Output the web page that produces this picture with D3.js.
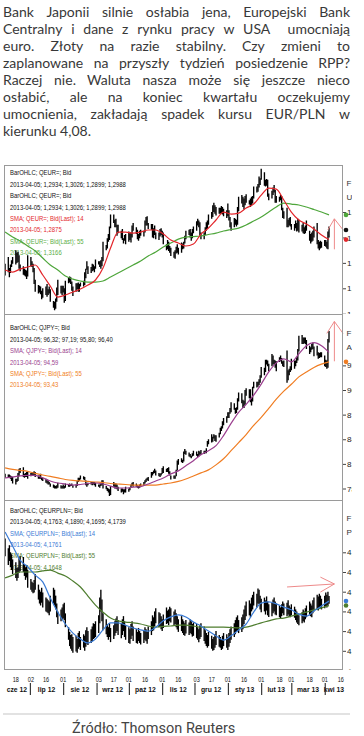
<!DOCTYPE html>
<html><head><meta charset="utf-8">
<script src="https://cdnjs.cloudflare.com/ajax/libs/d3/7.8.5/d3.min.js"></script>
<style>body{margin:0;background:#fff;}svg{display:block;}</style>
</head><body><script>
// ---------------- DATA ----------------
const introLines = [
  "Bank Japonii silnie osłabia jena, Europejski Bank",
  "Centralny i dane z rynku pracy w USA  umocniają",
  "euro. Złoty na razie stabilny. Czy zmieni to",
  "zaplanowane na przyszły tydzień posiedzenie RPP?",
  "Raczej nie. Waluta nasza może się jeszcze nieco",
  "osłabić, ale na koniec kwartału oczekujemy",
  "umocnienia, zakładają spadek kursu EUR/PLN w",
  "kierunku 4,08."
];
const sourceText = "Źródło: Thomson Reuters";

// trading days 2012-06-08 .. 2013-04-05 (weekdays)
const firstDay = new Date(2012, 5, 8), lastDay = new Date(2013, 3, 5);

// EUR/USD daily high / low
const eurusdHigh = [1.259,
 1.267,1.254,1.258,1.263,1.267, 1.275,1.272,1.273,1.269,1.258, 1.256,1.253,1.252,1.251,1.269,
 1.267,1.262,1.259,1.254,1.240, 1.234,1.233,1.232,1.227,1.230, 1.232,1.235,1.229,1.232,1.229,
 1.215,1.214,1.218,1.231,1.240, 1.233,1.233,1.233,1.230,1.239, 1.243,1.244,1.243,1.238,1.232,
 1.236,1.236,1.237,1.235,1.237, 1.239,1.249,1.253,1.262,1.256, 1.255,1.259,1.258,1.256,1.264,
 1.262,1.262,1.263,1.267,1.285, 1.281,1.289,1.294,1.303,1.317, 1.317,1.311,1.312,1.305,1.305,
 1.298,1.300,1.289,1.293,1.294, 1.297,1.295,1.296,1.304,1.307, 1.302,1.299,1.294,1.298,1.299,
 1.298,1.310,1.314,1.315,1.307, 1.306,1.306,1.301,1.304,1.296, 1.296,1.300,1.301,1.298,1.296,
 1.282,1.287,1.285,1.280,1.278, 1.273,1.275,1.279,1.282,1.278, 1.284,1.283,1.285,1.292,1.298,
 1.299,1.300,1.296,1.300,1.303, 1.309,1.312,1.310,1.308,1.296, 1.296,1.302,1.308,1.310,1.317,
 1.320,1.328,1.331,1.328,1.326, 1.325,1.325,1.327,1.326,1.324, 1.322,1.330,1.322,1.314,1.308,
 1.313,1.312,1.311,1.326,1.338, 1.340,1.338,1.336,1.339,1.341, 1.334,1.336,1.338,1.339,1.350,
 1.350,1.353,1.362,1.360,1.371, 1.367,1.358,1.359,1.358,1.342, 1.345,1.349,1.352,1.346,1.339,
 1.338,1.340,1.339,1.325,1.321, 1.325,1.311,1.313,1.314,1.306, 1.306,1.310,1.307,1.312,1.311,
 1.305,1.307,1.302,1.304,1.310, 1.298,1.294,1.296,1.298,1.303, 1.307,1.287,1.285,1.286,1.285,
 1.287,1.287,1.285,1.297,1.303];
const eurusdLow = [1.245,
 1.249,1.243,1.248,1.255,1.259, 1.258,1.260,1.261,1.253,1.250, 1.246,1.245,1.244,1.241,1.244,
 1.256,1.255,1.249,1.235,1.226, 1.224,1.225,1.223,1.217,1.219, 1.222,1.220,1.222,1.224,1.214,
 1.207,1.204,1.206,1.214,1.222, 1.224,1.222,1.225,1.213,1.215, 1.236,1.237,1.235,1.227,1.221,
 1.226,1.229,1.226,1.226,1.232, 1.232,1.234,1.242,1.252,1.247, 1.248,1.250,1.251,1.249,1.253,
 1.258,1.255,1.253,1.256,1.262, 1.275,1.277,1.285,1.287,1.301, 1.307,1.302,1.302,1.292,1.295,
 1.289,1.287,1.283,1.286,1.282, 1.285,1.287,1.284,1.290,1.298, 1.294,1.288,1.286,1.289,1.292,
 1.291,1.296,1.304,1.304,1.300, 1.299,1.290,1.289,1.293,1.288, 1.287,1.291,1.293,1.290,1.282,
 1.275,1.276,1.274,1.272,1.268, 1.266,1.265,1.271,1.272,1.270, 1.272,1.276,1.277,1.283,1.288,
 1.293,1.290,1.286,1.289,1.295, 1.298,1.304,1.302,1.292,1.288, 1.288,1.293,1.298,1.300,1.305,
 1.312,1.314,1.320,1.318,1.316, 1.318,1.318,1.318,1.317,1.315, 1.313,1.315,1.310,1.302,1.298,
 1.302,1.305,1.303,1.305,1.321, 1.330,1.326,1.323,1.328,1.331, 1.329,1.326,1.328,1.330,1.336,
 1.343,1.344,1.349,1.352,1.358, 1.351,1.350,1.351,1.338,1.334, 1.336,1.340,1.343,1.331,1.331,
 1.332,1.334,1.322,1.313,1.312, 1.302,1.302,1.304,1.303,1.299, 1.298,1.301,1.297,1.298,1.296,
 1.297,1.295,1.294,1.295,1.298, 1.286,1.283,1.285,1.286,1.290, 1.282,1.277,1.275,1.277,1.278,
 1.280,1.279,1.277,1.276,1.290];
// weekly (Friday) readings of the moving averages
const eurusdSma14 = [1.2516,1.2492,1.2527,1.2551,1.2575,1.2457,1.2327,1.2197,1.2221,1.2256,1.2291,
 1.2339,1.2398,1.2539,1.2775,1.2964,1.2964,1.2952,1.2964,1.2988,1.2988,1.2940,1.2870,1.2834,1.2799,
 1.2822,1.2940,1.3011,1.3106,1.3200,1.3176,1.3188,1.3247,1.3294,1.3400,1.3483,1.3471,1.3342,1.3200,
 1.3106,1.3058,1.3000,1.2929,1.2875];
const eurusdSma55 = [1.2964,1.2905,1.2858,1.2799,1.2740,1.2657,1.2575,1.2516,1.2445,1.2409,1.2386,
 1.2374,1.2374,1.2386,1.2433,1.2480,1.2527,1.2575,1.2622,1.2681,1.2728,1.2787,1.2834,1.2881,1.2905,
 1.2911,1.2917,1.2935,1.2952,1.2976,1.2994,1.3011,1.3047,1.3094,1.3141,1.3200,1.3259,1.3306,1.3294,
 1.3283,1.3259,1.3230,1.3200,1.3166];

// USD/JPY daily high / low
const usdjpyHigh = [79.8,
 79.7,79.7,79.6,79.5,79.4, 79.2,79.2,79.9,80.4,80.5, 80.6,79.8,79.9,80.0,80.0,
 79.9,80.0,80.0,80.1,80.0, 79.6,79.6,79.8,79.4,79.3, 79.2,79.1,78.9,78.8,78.6,
 78.5,78.4,78.3,78.4,78.7, 78.4,78.3,78.5,78.3,78.6, 78.5,78.6,78.5,78.6,78.4,
 78.5,78.9,79.3,79.3,79.6, 79.5,79.4,79.0,78.7,78.7, 78.8,78.8,78.8,78.8,78.7,
 78.5,78.5,78.7,79.0,79.0, 78.3,78.1,78.0,77.9,78.3, 78.8,78.6,78.6,78.5,78.2,
 78.0,78.0,77.9,77.9,78.2, 78.0,78.1,78.5,78.7,78.8, 78.6,78.4,78.3,78.5,78.6,
 78.8,79.0,79.2,79.3,79.4, 80.0,80.0,80.2,80.4,80.2, 79.9,79.8,79.9,80.5,80.7,
 80.4,80.5,80.6,80.1,79.6, 79.6,79.6,80.3,81.4,81.6, 81.7,81.5,82.5,82.8,82.6,
 82.4,82.2,82.0,82.3,82.6, 82.5,82.2,82.6,82.5,82.7, 82.6,82.6,82.9,83.8,84.0,
 84.6,84.3,84.6,84.5,84.5, 84.8,85.4,85.6,86.2,86.6, 86.8,87.3,87.3,87.8,88.5,
 88.4,87.8,87.9,89.0,89.7, 89.6,88.8,88.7,90.0,90.2, 90.1,90.1,89.0,90.4,91.0,
 91.0,91.0,91.3,91.8,92.8, 92.7,93.7,93.7,93.6,93.2, 94.4,94.2,93.7,93.6,93.5,
 94.0,94.2,93.9,93.5,93.6, 94.8,92.4,92.6,92.9,93.8, 93.6,93.6,94.0,95.0,96.6,
 96.7,96.4,96.4,96.4,96.1, 95.4,95.2,95.6,95.8,95.3, 95.4,94.6,94.5,94.6,94.6,
 94.2,93.7,93.6,96.2,97.2];
const usdjpyLow = [79.3,
 79.3,79.3,79.2,78.9,78.6, 78.5,78.8,78.9,79.5,79.9, 79.4,79.3,79.4,79.4,79.2,
 79.5,79.6,79.6,79.6,79.4, 79.2,79.2,79.2,79.0,78.9, 78.7,78.6,78.5,78.5,78.2,
 78.1,78.0,78.0,78.0,78.1, 78.0,78.0,78.0,78.0,78.1, 78.2,78.2,78.3,78.3,78.1,
 78.1,78.3,78.8,78.9,79.1, 79.1,79.0,78.4,78.2,78.4, 78.5,78.4,78.5,78.4,78.2,
 78.2,78.1,78.3,78.4,78.0, 77.9,77.7,77.5,77.1,77.2, 78.2,78.0,78.0,77.9,77.7,
 77.5,77.6,77.3,77.5,77.5, 77.6,77.8,78.1,78.3,78.2, 78.2,78.1,78.0,78.1,78.2,
 78.3,78.6,78.8,79.0,78.9, 79.3,79.6,79.8,79.9,79.6, 79.5,79.4,79.6,79.8,79.9,
 80.0,80.0,79.8,79.6,79.1, 79.2,79.2,79.5,80.2,80.9, 81.2,81.1,81.3,82.2,82.1,
 81.9,81.8,81.7,81.9,82.0, 82.0,81.8,81.9,82.1,82.1, 82.2,82.3,82.3,83.1,83.4,
 83.6,83.7,84.1,83.8,83.7, 84.2,84.6,85.0,85.3,85.7, 86.0,86.6,86.6,87.1,87.3,
 87.6,87.1,87.2,87.6,88.6, 88.4,87.8,87.8,88.2,89.3, 89.0,88.5,88.1,88.6,90.2,
 90.3,90.4,90.6,90.9,91.5, 91.8,92.2,93.1,92.9,92.3, 92.9,93.1,93.1,92.7,92.3,
 93.4,93.5,93.2,92.9,92.8, 90.9,91.2,91.8,92.2,92.4, 92.6,92.9,93.3,93.6,94.7,
 95.6,95.6,95.7,95.6,95.0, 94.4,94.6,94.9,95.0,94.1, 94.2,93.8,93.9,94.0,94.0,
 92.9,92.8,92.6,92.7,95.8];
const usdjpySma14 = [79.29,79.41,79.53,79.59,79.59,79.29,78.92,78.67,78.55,78.42,78.49,78.61,78.67,
 78.55,78.30,78.06,78.06,78.18,78.24,78.55,78.92,79.29,79.78,80.15,80.76,81.38,82.11,82.61,83.22,
 84.45,85.93,87.28,88.26,89.37,90.72,92.20,93.31,93.80,93.43,94.41,95.40,95.77,95.40,94.59];
const usdjpySma55 = [80.52,80.33,80.21,80.09,79.84,79.65,79.47,79.29,79.10,78.98,78.92,78.86,78.79,
 78.73,78.61,78.55,78.49,78.42,78.42,78.42,78.42,78.55,78.67,78.86,79.16,79.53,79.90,80.27,80.88,
 81.62,82.61,83.59,84.57,85.68,86.67,87.77,88.88,89.86,90.70,91.60,92.20,92.75,93.15,93.43];

// EUR/PLN daily high / low
const eurplnHigh = [4.335,
 4.310,4.318,4.300,4.295,4.282, 4.275,4.260,4.262,4.285,4.290, 4.288,4.270,4.262,4.268,4.255,
 4.232,4.225,4.222,4.230,4.245, 4.218,4.205,4.200,4.210,4.198, 4.185,4.182,4.178,4.175,4.190,
 4.210,4.205,4.190,4.170,4.150, 4.155,4.160,4.168,4.172,4.145, 4.110,4.098,4.090,4.092,4.085,
 4.088,4.080,4.095,4.100,4.085, 4.092,4.088,4.102,4.110,4.100, 4.105,4.112,4.120,4.118,4.125,
 4.140,4.185,4.205,4.180,4.145, 4.130,4.118,4.110,4.120,4.108, 4.115,4.125,4.132,4.138,4.128,
 4.120,4.130,4.138,4.125,4.115, 4.110,4.105,4.118,4.125,4.112, 4.105,4.098,4.108,4.100,4.095,
 4.102,4.110,4.105,4.098,4.112, 4.125,4.140,4.135,4.150,4.158, 4.148,4.145,4.138,4.130,4.142,
 4.160,4.152,4.155,4.162,4.158, 4.150,4.155,4.145,4.138,4.130, 4.138,4.130,4.125,4.120,4.128,
 4.122,4.130,4.125,4.118,4.122, 4.118,4.110,4.105,4.115,4.120, 4.112,4.102,4.095,4.090,4.098,
 4.088,4.080,4.085,4.092,4.100, 4.090,4.085,4.080,4.088,4.095, 4.092,4.085,4.095,4.105,4.112,
 4.120,4.128,4.135,4.140,4.128, 4.135,4.142,4.155,4.165,4.175, 4.178,4.170,4.185,4.192,4.200,
 4.195,4.208,4.205,4.190,4.182, 4.185,4.178,4.188,4.175,4.168, 4.172,4.180,4.185,4.175,4.170,
 4.165,4.160,4.168,4.175,4.170, 4.172,4.178,4.165,4.160,4.168, 4.162,4.155,4.150,4.145,4.140,
 4.148,4.155,4.150,4.158,4.165, 4.175,4.170,4.165,4.178,4.185, 4.192,4.188,4.195,4.190,4.182,
 4.190,4.198,4.192,4.200,4.189];
const eurplnLow = [4.290,
 4.268,4.278,4.262,4.255,4.245, 4.235,4.228,4.235,4.248,4.252, 4.250,4.240,4.230,4.236,4.210,
 4.205,4.200,4.196,4.198,4.205, 4.180,4.170,4.165,4.172,4.160, 4.150,4.148,4.145,4.140,4.150,
 4.170,4.165,4.155,4.135,4.118, 4.125,4.130,4.132,4.128,4.110, 4.078,4.062,4.055,4.050,4.045,
 4.048,4.045,4.055,4.060,4.052, 4.058,4.050,4.060,4.068,4.065, 4.070,4.075,4.080,4.082,4.085,
 4.095,4.120,4.150,4.125,4.102, 4.092,4.085,4.078,4.085,4.072, 4.080,4.088,4.095,4.100,4.090,
 4.082,4.090,4.100,4.085,4.078, 4.070,4.068,4.080,4.088,4.075, 4.070,4.068,4.075,4.070,4.066,
 4.070,4.078,4.074,4.068,4.080, 4.090,4.100,4.102,4.112,4.120, 4.110,4.112,4.105,4.100,4.108,
 4.118,4.120,4.115,4.125,4.122, 4.115,4.118,4.110,4.104,4.098, 4.100,4.095,4.090,4.088,4.094,
 4.090,4.095,4.092,4.086,4.088, 4.082,4.078,4.072,4.080,4.085, 4.075,4.068,4.062,4.058,4.062,
 4.055,4.050,4.052,4.058,4.065, 4.060,4.058,4.052,4.055,4.062, 4.058,4.052,4.060,4.070,4.078,
 4.085,4.092,4.098,4.100,4.095, 4.098,4.105,4.118,4.128,4.138, 4.140,4.135,4.150,4.155,4.165,
 4.160,4.170,4.168,4.155,4.148, 4.150,4.142,4.152,4.140,4.136, 4.138,4.145,4.150,4.142,4.140,
 4.135,4.132,4.138,4.145,4.140, 4.138,4.142,4.136,4.135,4.140, 4.134,4.128,4.122,4.118,4.115,
 4.120,4.125,4.122,4.130,4.135, 4.140,4.138,4.135,4.145,4.150, 4.155,4.152,4.160,4.158,4.155,
 4.158,4.162,4.160,4.165,4.1695];
const eurplnSma14 = [4.3515,4.316,4.280,4.263,4.242,4.225,4.184,4.148,4.118,4.095,4.080,4.070,4.080,
 4.103,4.121,4.121,4.115,4.108,4.103,4.100,4.110,4.126,4.136,4.141,4.136,4.123,4.113,4.100,4.088,
 4.077,4.088,4.103,4.118,4.148,4.171,4.174,4.169,4.161,4.154,4.143,4.138,4.151,4.164,4.1761];
const eurplnSma55 = [4.235,4.242,4.250,4.250,4.250,4.253,4.255,4.247,4.240,4.227,4.212,4.189,4.166,
 4.148,4.133,4.126,4.123,4.121,4.118,4.113,4.110,4.112,4.113,4.115,4.115,4.113,4.110,4.110,4.110,
 4.110,4.109,4.108,4.110,4.115,4.121,4.126,4.131,4.133,4.138,4.143,4.148,4.154,4.159,4.1648];

const eurusdTicks = [1.20, 1.23, 1.26, 1.29, 1.32];
const usdjpyTicks = [78, 81, 84, 87, 90, 93];
const eurplnTicks = [4.00, 4.05, 4.10, 4.15, 4.20, 4.25, 4.30];

const eurusdLegend = ["BarOHLC; QEUR=; Bid", "2013-04-05; 1,2934; 1,3026; 1,2899; 1,2988",
  "BarOHLC; QEUR=; Bid", "2013-04-05; 1,2934; 1,3026; 1,2899; 1,2988",
  "SMA; QEUR=; Bid(Last);  14", "2013-04-05; 1,2875", "SMA; QEUR=; Bid(Last);  55", "2013-04-05; 1,3166"];
const usdjpyLegend = ["BarOHLC; QJPY=; Bid", "2013-04-05; 96,32; 97,19; 95,80; 96,40",
  "SMA; QJPY=; Bid(Last);  14", "2013-04-05; 94,59", "SMA; QJPY=; Bid(Last);  55", "2013-04-05; 93,43"];
const eurplnLegend = ["BarOHLC; QEURPLN=; Bid", "2013-04-05; 4,1763; 4,1890; 4,1695; 4,1739",
  "SMA; QEURPLN=; Bid(Last);  14", "2013-04-05; 4,1761", "SMA; QEURPLN=; Bid(Last);  55", "2013-04-05; 4,1648"];

// last values shown as markers on the right axis
const eurusdMarks = [1.3166, 1.2988, 1.2875];
const usdjpyMarks = [93.43];
const eurplnMarks = [4.1761, 4.1648];

// forecast arrows (date, value) polylines
const eurusdArrow = [[[2013,3,10,1.276],[2013,3,10,1.312]], [[2013,3,4,1.299],[2013,3,10,1.312],[2013,3,18,1.299]]];
const usdjpyArrow = [[[2013,3,10,93.5],[2013,3,10,98.35]], [[2013,3,3,96.9],[2013,3,10,98.35],[2013,3,18,96.9]]];
const eurplnArrow = [[[2013,1,25,4.212],[2013,3,10,4.2196]], [[2013,2,28,4.237],[2013,3,10,4.2196],[2013,2,28,4.199]]];

const dayLabels = ["18","02","16","01","16","03","17","01","16","01","16","03","17","01","16","01","18","01","18","01","16"];
const dayLabelDates = [[2012,5,18],[2012,6,2],[2012,6,16],[2012,7,1],[2012,7,16],[2012,8,3],[2012,8,17],[2012,9,1],
  [2012,9,16],[2012,10,1],[2012,10,16],[2012,11,3],[2012,11,17],[2013,0,1],[2013,0,16],[2013,1,1],[2013,1,18],
  [2013,2,1],[2013,2,18],[2013,3,1],[2013,3,16]];
const monthLabels = ["cze 12","lip 12","sie 12","wrz 12","paź 12","lis 12","gru 12","sty 13","lut 13","mar 13","kwi 13"];
const monthStarts = [[2012,5,1],[2012,6,1],[2012,7,1],[2012,8,1],[2012,9,1],[2012,10,1],[2012,11,1],[2013,0,1],[2013,1,1],[2013,2,1],[2013,3,1],[2013,4,1]];

// ---------------- DRAWING ----------------
const W = 364, H = 736;
const svg = d3.select("body").append("svg").attr("width", W).attr("height", H);

// intro paragraph, justified
const para = svg.append("g").attr("font-family", "Lato, 'Open Sans', sans-serif")
  .attr("font-size", 14).attr("fill", "#383838");
const pLeft = 3, pRight = 350;
introLines.forEach((line, i) => {
  const t = para.append("text").attr("y", 17.3 + i * 17);
  const words = line.split(" ");
  const spans = words.map(w => t.append("tspan").text(w));
  const widths = spans.map(s => s.node().getComputedTextLength());
  const total = d3.sum(widths);
  const last = i === introLines.length - 1;
  const gap = last ? 3.6 : (pRight - pLeft - total) / (words.length - 1);
  let x = pLeft;
  spans.forEach((s, j) => { s.attr("x", x); x += widths[j] + gap; });
});

const days = d3.timeDay.range(firstDay, d3.timeDay.offset(lastDay, 1)).filter(d => d.getDay() % 6 !== 0);
const fridays = d3.timeFriday.range(firstDay, d3.timeDay.offset(lastDay, 1));
const x = d3.scaleTime().domain([new Date(2012, 5, 7), new Date(2013, 3, 18)]).range([4, 343]);
const toDate = a => new Date(a[0], a[1], a[2]);

const fmt2 = v => d3.format(".2f")(v).replace(".", ",");
const fmt0 = v => d3.format("d")(v);

const panels = [
  { id: "p1", top: 165, bottom: 314.5, domain: [1.1991, 1.3755], high: eurusdHigh, low: eurusdLow,
    fast: eurusdSma14, slow: eurusdSma55, fastColor: "#e3262b", slowColor: "#4ea63b",
    legend: eurusdLegend, legendColors: ["#111","#111","#111","#111","#e3262b","#e3262b","#5aae45","#5aae45"],
    legendTop: 172.5, ticks: eurusdTicks, fmt: fmt2, marks: eurusdMarks,
    markColors: ["#4ea63b", "#111", "#e3262b"], arrow: eurusdArrow, side: ["F", "U"] },
  { id: "p2", top: 314.5, bottom: 500, domain: [76.6, 99.2], high: usdjpyHigh, low: usdjpyLow,
    fast: usdjpySma14, slow: usdjpySma55, fastColor: "#9b3f8f", slowColor: "#f07d22",
    legend: usdjpyLegend, legendColors: ["#111","#111","#9b3f8f","#9b3f8f","#f07d22","#f07d22"],
    legendTop: 327.5, ticks: usdjpyTicks, fmt: fmt0, marks: usdjpyMarks,
    markColors: ["#f07d22"], arrow: usdjpyArrow, side: ["F", "A"] },
  { id: "p3", top: 500, bottom: 670, domain: [4.0013, 4.4327], high: eurplnHigh, low: eurplnLow,
    fast: eurplnSma14, slow: eurplnSma55, fastColor: "#3a7bd5", slowColor: "#4e7d2e",
    legend: eurplnLegend, legendColors: ["#111","#111","#3a7bd5","#3a7bd5","#4e7d2e","#4e7d2e"],
    legendTop: 510, ticks: eurplnTicks, fmt: fmt2, marks: eurplnMarks,
    markColors: ["#3a7bd5", "#4e7d2e"], arrow: eurplnArrow, side: ["F", "P"] }
];

const defs = svg.append("defs");
panels.forEach(p => {
  const y = d3.scaleLinear().domain(p.domain).range([p.bottom, p.top]);
  defs.append("clipPath").attr("id", "c" + p.id).append("rect")
    .attr("x", 4).attr("y", p.top).attr("width", 339).attr("height", p.bottom - p.top);
  defs.append("clipPath").attr("id", "r" + p.id).append("rect")
    .attr("x", 343).attr("y", p.top + 0.5).attr("width", 9).attr("height", p.bottom - p.top - 1);

  const g = svg.append("g");
  // legend text
  const lg = g.append("g").attr("font-family", "Arial, 'Liberation Sans', sans-serif").attr("font-size", 8);
  p.legend.forEach((s, i) => {
    const t = lg.append("text").attr("x", 10).attr("y", p.legendTop + i * 11.4 + 2.8)
      .attr("fill", p.legendColors[i]).text(s);
    const w = t.node().getComputedTextLength();
    t.attr("textLength", w * 0.74).attr("lengthAdjust", "spacingAndGlyphs");
  });

  const inner = g.append("g").attr("clip-path", `url(#c${p.id})`);
  // OHLC bars (high-low)
  inner.append("g").attr("stroke", "#000").attr("stroke-width", 1.35)
    .selectAll("line").data(days).join("line")
    .attr("x1", d => x(d)).attr("x2", d => x(d))
    .attr("y1", (d, i) => y(p.high[i])).attr("y2", (d, i) => y(p.low[i]));
  const line = d3.line().x((d, i) => x(fridays[i])).y(d => y(d)).curve(d3.curveMonotoneX);
  inner.append("path").datum(p.slow).attr("d", line).attr("fill", "none")
    .attr("stroke", p.slowColor).attr("stroke-width", 1.2);
  inner.append("path").datum(p.fast).attr("d", line).attr("fill", "none")
    .attr("stroke", p.fastColor).attr("stroke-width", 1.2);

  // forecast arrow
  const al = d3.line().x(d => x(new Date(d[0], d[1], d[2]))).y(d => y(d[3]));
  p.arrow.forEach(seg => g.append("path").attr("d", al(seg)).attr("fill", "none")
    .attr("stroke", "#ee8a8a").attr("stroke-width", 1));

  // right axis (clipped like the source)
  const ax = g.append("g").attr("clip-path", `url(#r${p.id})`);
  ax.append("g").attr("transform", "translate(343,0)")
    .call(d3.axisRight(y).tickValues(p.ticks).tickSize(3).tickPadding(1).tickFormat(p.fmt))
    .call(a => a.select(".domain").remove())
    .call(a => a.selectAll("text").attr("font-size", 8).attr("font-family", "Arial, sans-serif").attr("fill", "#222"))
    .call(a => a.selectAll("line").attr("stroke", "#444"));
  ax.selectAll("text.side").data(p.side).join("text").attr("class", "side")
    .attr("x", 346.5).attr("y", (d, i) => p.top + 21 + i * 14).attr("font-size", 8)
    .attr("font-family", "Arial, sans-serif").attr("fill", "#333").text(d => d);
  ax.selectAll("circle").data(p.marks).join("circle")
    .attr("cx", 346).attr("cy", d => y(d)).attr("r", 2.3).attr("fill", (d, i) => p.markColors[i]);
});

// frame
const frame = svg.append("g").attr("stroke", "#9a9a9a").attr("fill", "none").attr("stroke-width", 1);
frame.append("rect").attr("x", 4.5).attr("y", 165.5).attr("width", 338).attr("height", 504);
[314.5, 500.5].forEach(v => frame.append("line").attr("x1", 4.5).attr("x2", 342.5).attr("y1", v).attr("y2", v));

// bottom date axis
const dl = svg.append("g").attr("font-family", "Arial, sans-serif").attr("font-size", 6.5)
  .attr("text-anchor", "middle").attr("fill", "#111");
dayLabels.forEach((s, i) => {
  const t = dl.append("text").attr("x", x(toDate(dayLabelDates[i]))).attr("y", 681.5).text(s);
  t.attr("textLength", t.node().getComputedTextLength() * 0.85).attr("lengthAdjust", "spacingAndGlyphs");
});
const ml = svg.append("g").attr("font-family", "Arial, sans-serif").attr("font-size", 8)
  .attr("font-weight", "bold").attr("text-anchor", "middle").attr("fill", "#111");
const [d0, d1] = x.domain();
monthLabels.forEach((s, i) => {
  const a = Math.max(x(toDate(monthStarts[i])), x(d0));
  const b = Math.min(x(toDate(monthStarts[i + 1])), x(d1));
  const t = ml.append("text").attr("x", (a + b) / 2).attr("y", 692).text(s);
  t.attr("textLength", t.node().getComputedTextLength() * 0.85).attr("lengthAdjust", "spacingAndGlyphs");
  if (i > 0) svg.append("line").attr("x1", x(toDate(monthStarts[i])) + 0.5).attr("x2", x(toDate(monthStarts[i])) + 0.5)
    .attr("y1", 683).attr("y2", 695).attr("stroke", "#111").attr("stroke-width", 1);
});

// source
svg.append("line").attr("x1", 3).attr("x2", 350).attr("y1", 714).attr("y2", 714)
  .attr("stroke", "#e2e2e2").attr("stroke-width", 2);
svg.append("text").attr("x", 72).attr("y", 733).attr("font-family", "Roboto, sans-serif")
  .attr("font-size", 14.5).attr("fill", "#444").text(sourceText);
</script></body></html>
